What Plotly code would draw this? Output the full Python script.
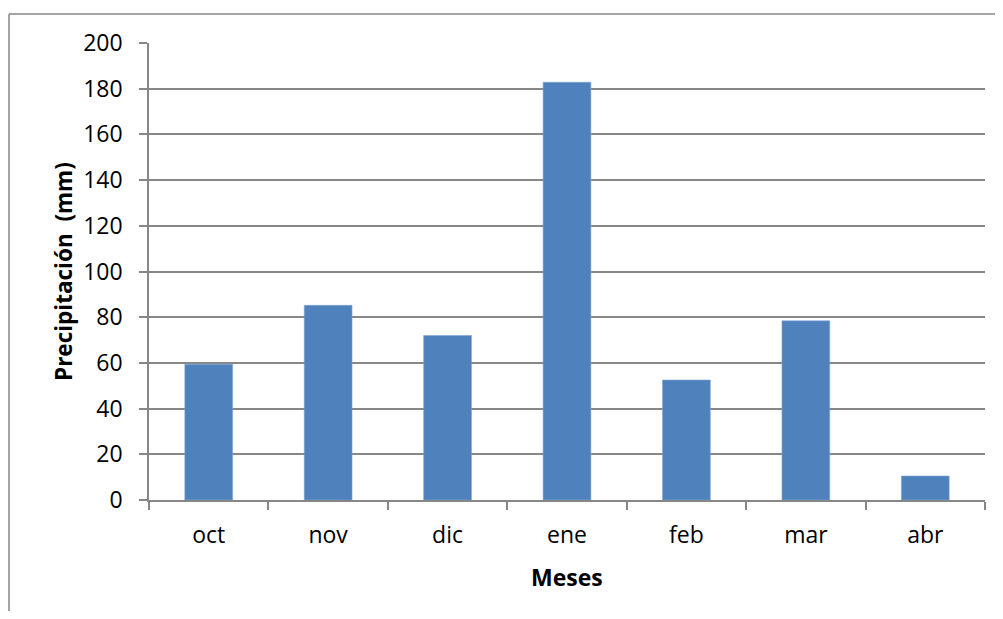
import plotly.graph_objects as go

months = ["oct", "nov", "dic", "ene", "feb", "mar", "abr"]
precip = [59.4, 85.2, 72.0, 182.8, 52.5, 78.4, 10.5]
y_ticks = [0, 20, 40, 60, 80, 100, 120, 140, 160, 180, 200]

# page body has an 8px margin; work in page coordinates and offset
OFF = 8
W, H = 1003 - 2 * OFF, 619 - 2 * OFF
L, R, T, B = 149 - OFF, 985 - OFF, 43 - OFF, 500 - OFF
pw, ph = R - L, B - T

def px(x):
    return (x - OFF - L) / pw

def py(y):
    return (B - (y - OFF)) / ph

FONT = "Open Sans"
GRID = "#878787"

fig = go.Figure(go.Bar(
    x=months, y=precip,
    marker=dict(color="#4F81BD", line=dict(color="#7FA3D0", width=0.6)),
    width=0.4,
))

fig.update_layout(
    width=W, height=H,
    margin=dict(l=L, r=W - R, t=T, b=H - B),
    paper_bgcolor="white", plot_bgcolor="white",
    showlegend=False,
    font=dict(family=FONT, size=23, color="black"),
    bargap=0.6,
)
fig.update_xaxes(
    showgrid=False, showline=True, linecolor=GRID, linewidth=1.5,
    ticks="outside", tickson="boundaries", ticklen=8, tickcolor=GRID, tickwidth=1.5,
    tickfont=dict(family=FONT, size=23),
    ticklabelstandoff=14,
)
fig.update_yaxes(
    range=[0, 200], tickvals=y_ticks, showgrid=True, gridcolor=GRID, gridwidth=1.5,
    showline=True, linecolor=GRID, linewidth=1.5, zeroline=False,
    ticks="outside", ticklen=8, tickcolor=GRID, tickwidth=1.5,
    tickfont=dict(family=FONT, size=23),
    ticklabelstandoff=12,
)

fig.add_annotation(
    text="<b>Precipitación\u00a0\u00a0(mm)</b>", textangle=-90,
    xref="paper", yref="paper", x=px(63), y=py(272),
    showarrow=False, font=dict(family=FONT, size=22.5),
    xanchor="center", yanchor="middle",
)
fig.add_annotation(
    text="<b>Meses</b>",
    xref="paper", yref="paper", x=px(567), y=py(577),
    showarrow=False, font=dict(family=FONT, size=23),
    xanchor="center", yanchor="middle",
)

# outer chart frame (left and top edges visible)
fig.add_shape(type="line", xref="paper", yref="paper",
              x0=px(9), x1=px(9), y0=py(14), y1=py(640),
              line=dict(color=GRID, width=1.5))
fig.add_shape(type="line", xref="paper", yref="paper",
              x0=px(9), x1=px(1010), y0=py(14), y1=py(14),
              line=dict(color=GRID, width=1.5))

fig.write_html("out.html")
